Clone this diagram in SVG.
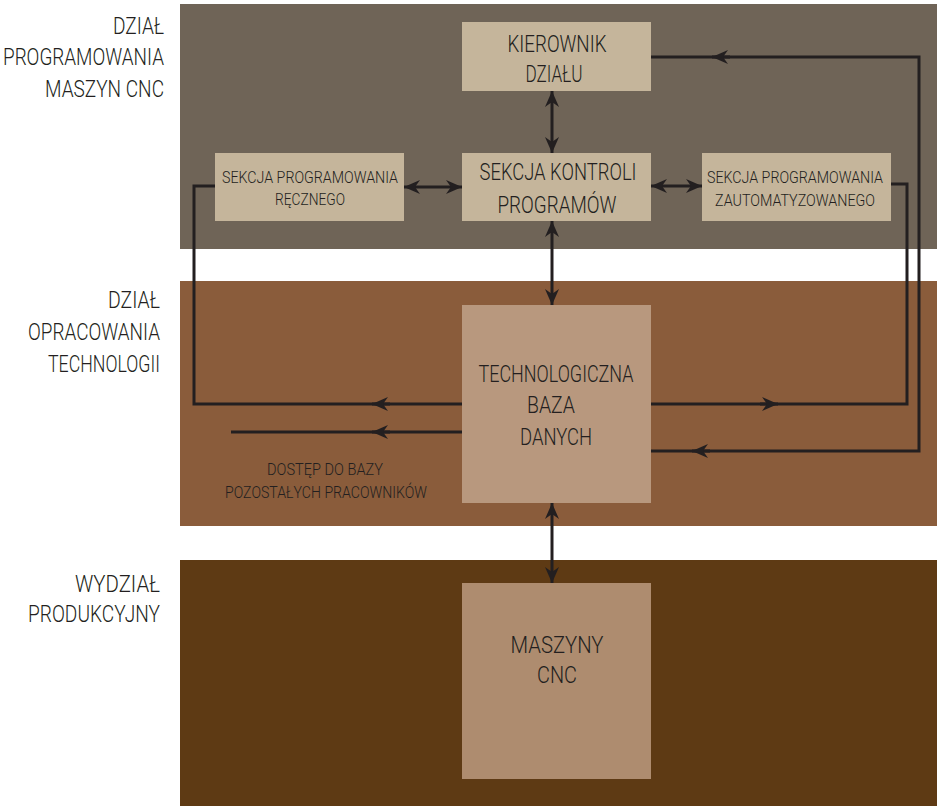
<svg xmlns="http://www.w3.org/2000/svg" width="940" height="810" viewBox="0 0 940 810">
<defs>
<style>
text{font-family:"Roboto","Lato","DejaVu Sans Condensed",sans-serif;font-weight:300;fill:#231f20;}
.lbl{font-size:23px;text-anchor:end;}
.big{font-size:23px;text-anchor:middle;}
.sm{font-size:16px;text-anchor:middle;}
.cap{font-size:17px;text-anchor:middle;}
.conn{fill:none;stroke:#231f20;stroke-width:3;}
</style>
<marker id="ah" markerUnits="userSpaceOnUse" viewBox="0 -7 16 14" markerWidth="16" markerHeight="14" refX="16" refY="0" orient="auto-start-reverse">
<path d="M0,-7 L16,0 L0,7 L5,0 Z" fill="#231f20"/>
</marker>
</defs>
<rect width="940" height="810" fill="#ffffff"/>
<g id="bands">
<rect x="180" y="4" width="757" height="245" fill="#6f6457"/>
<rect x="180" y="281" width="757" height="245" fill="#8a5c3b"/>
<rect x="180" y="560" width="757" height="246" fill="#5e3a14"/>
</g>
<g id="labels">
<text class="lbl" x="164" y="34" textLength="51" lengthAdjust="spacingAndGlyphs">DZIAŁ</text>
<text class="lbl" x="164" y="65" textLength="161" lengthAdjust="spacingAndGlyphs">PROGRAMOWANIA</text>
<text class="lbl" x="164" y="97" textLength="119" lengthAdjust="spacingAndGlyphs">MASZYN CNC</text>
<text class="lbl" x="160" y="308" textLength="52" lengthAdjust="spacingAndGlyphs">DZIAŁ</text>
<text class="lbl" x="160" y="340" textLength="132" lengthAdjust="spacingAndGlyphs">OPRACOWANIA</text>
<text class="lbl" x="160" y="372" textLength="112" lengthAdjust="spacingAndGlyphs">TECHNOLOGII</text>
<text class="lbl" x="160" y="592" textLength="85" lengthAdjust="spacingAndGlyphs">WYDZIAŁ</text>
<text class="lbl" x="160" y="622" textLength="132" lengthAdjust="spacingAndGlyphs">PRODUKCYJNY</text>
</g>
<g id="kierownik">
<rect x="462" y="22" width="189" height="69" fill="#c5b59b"/>
<text class="big" x="557" y="52" textLength="99" lengthAdjust="spacingAndGlyphs">KIEROWNIK</text>
<text class="big" x="554" y="82" textLength="57" lengthAdjust="spacingAndGlyphs">DZIAŁU</text>
</g>
<g id="kontrola">
<rect x="462" y="153" width="189" height="68" fill="#c5b59b"/>
<text class="big" x="558" y="180" textLength="157" lengthAdjust="spacingAndGlyphs">SEKCJA KONTROLI</text>
<text class="big" x="557" y="213" textLength="119" lengthAdjust="spacingAndGlyphs">PROGRAMÓW</text>
</g>
<g id="reczne">
<rect x="215" y="153" width="189" height="68" fill="#c5b59b"/>
<text class="sm" x="310" y="183" textLength="176" lengthAdjust="spacingAndGlyphs">SEKCJA PROGRAMOWANIA</text>
<text class="sm" x="310" y="205" textLength="70" lengthAdjust="spacingAndGlyphs">RĘCZNEGO</text>
</g>
<g id="automat">
<rect x="702" y="153" width="189" height="68" fill="#c5b59b"/>
<text class="sm" x="795" y="183" textLength="176" lengthAdjust="spacingAndGlyphs">SEKCJA PROGRAMOWANIA</text>
<text class="sm" x="795" y="206" textLength="160" lengthAdjust="spacingAndGlyphs">ZAUTOMATYZOWANEGO</text>
</g>
<g id="baza">
<rect x="462" y="305" width="189" height="198" fill="#b8987e"/>
<text class="big" x="556" y="382" textLength="155" lengthAdjust="spacingAndGlyphs">TECHNOLOGICZNA</text>
<text class="big" x="551" y="413" textLength="48" lengthAdjust="spacingAndGlyphs">BAZA</text>
<text class="big" x="556" y="445" textLength="72" lengthAdjust="spacingAndGlyphs">DANYCH</text>
</g>
<g id="maszyny">
<rect x="462" y="583" width="189" height="196" fill="#ae8c6f"/>
<text class="big" x="557" y="653" textLength="93" lengthAdjust="spacingAndGlyphs">MASZYNY</text>
<text class="big" x="557" y="683" textLength="40" lengthAdjust="spacingAndGlyphs">CNC</text>
</g>
<g id="dostep">
<text class="cap" x="325" y="475" textLength="116" lengthAdjust="spacingAndGlyphs">DOSTĘP DO BAZY</text>
<text class="cap" x="326" y="498" textLength="202" lengthAdjust="spacingAndGlyphs">POZOSTAŁYCH PRACOWNIKÓW</text>
</g>
<g id="connectors">
<path class="conn" d="M552,91 L552,153" marker-start="url(#ah)" marker-end="url(#ah)"/>
<path class="conn" d="M552,221 L552,305" marker-start="url(#ah)" marker-end="url(#ah)"/>
<path class="conn" d="M552,503 L552,583" marker-start="url(#ah)" marker-end="url(#ah)"/>
<path class="conn" d="M404,187 L462,187" marker-start="url(#ah)" marker-end="url(#ah)"/>
<path class="conn" d="M651,186 L702,186" marker-start="url(#ah)" marker-end="url(#ah)"/>
<path class="conn" d="M462,404 L194,404 L194,186 L215,186"/>
<path class="conn" d="M390,404 L372,404" marker-end="url(#ah)"/>
<path class="conn" d="M462,432 L231,432"/>
<path class="conn" d="M390,432 L372,432" marker-end="url(#ah)"/>
<path class="conn" d="M651,404 L907,404 L907,184 L891,184"/>
<path class="conn" d="M760,404 L778,404" marker-end="url(#ah)"/>
<path class="conn" d="M651,57 L919,57 L919,451 L651,451"/>
<path class="conn" d="M730,57 L712,57" marker-end="url(#ah)"/>
<path class="conn" d="M710,451 L692,451" marker-end="url(#ah)"/>
</g>
</svg>
